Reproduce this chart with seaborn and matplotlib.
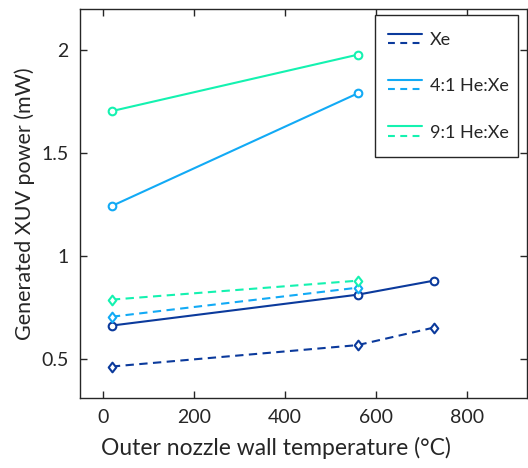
import pandas as pd
import matplotlib
matplotlib.use('Agg')
import matplotlib.pyplot as plt
import seaborn as sns
from matplotlib.legend_handler import HandlerBase
from matplotlib.lines import Line2D
from matplotlib.patches import Rectangle
from matplotlib.path import Path

sns.set_style('ticks')
plt.rcParams['font.family'] = ['Lato', 'DejaVu Sans']

# data
temp_xe = [20, 560, 727]
xe_solid = [0.662, 0.812, 0.880]
xe_dash = [0.463, 0.567, 0.652]

temp_mix = [20, 560]
he4_solid = [1.243, 1.790]
he4_dash = [0.705, 0.846]
he9_solid = [1.704, 1.978]
he9_dash = [0.788, 0.880]

c_xe = '#0b3a9c'
c_4 = '#12aaf5'
c_9 = '#14f2b0'
dash = (0, (4, 2.6))
diamond = Path([(0, 1), (0.78, 0), (0, -1), (-0.78, 0), (0, 1)],
               [Path.MOVETO, Path.LINETO, Path.LINETO, Path.LINETO, Path.CLOSEPOLY])

fig = plt.figure(figsize=(5.28, 4.68), dpi=100)
ax = fig.add_axes([80/528, 70/468, 447/528, 389/468])

def draw(x, y, col, dashed):
    d = pd.DataFrame({'T': x, 'P': y})
    sns.lineplot(data=d, x='T', y='P', ax=ax, color=col, lw=1.5,
                 linestyle=dash if dashed else '-',
                 marker=diamond if dashed else 'o', ms=7 if dashed else 5.5,
                 mfc='white', mec=col, mew=1.5, legend=False)

draw(temp_xe, xe_solid, c_xe, False)
draw(temp_xe, xe_dash, c_xe, True)
draw(temp_mix, he4_solid, c_4, False)
draw(temp_mix, he4_dash, c_4, True)
draw(temp_mix, he9_solid, c_9, False)
draw(temp_mix, he9_dash, c_9, True)

ax.set_xlim(-50, 932)
ax.set_ylim(0.31, 2.2)
ax.set_xticks([0, 200, 400, 600, 800])
ax.set_yticks([0.5, 1, 1.5, 2])
ax.set_yticklabels(['0.5', '1', '1.5', '2'])
ax.tick_params(direction='in', top=True, right=True, labelsize=14,
               length=5, width=1, colors='#262626', pad=8)
for s in ax.spines.values():
    s.set_color('#262626')
    s.set_linewidth(1)
ax.set_xlabel('Outer nozzle wall temperature (°C)', fontsize=16.5, color='#262626')
ax.xaxis.set_label_coords(0.438, -0.1)
ax.set_ylabel('Generated XUV power (mW)', fontsize=15.5, color='#262626', labelpad=5)

# legend box drawn by hand, entries without frame on top of it
ax.add_patch(Rectangle((0.660, 0.6195), 0.320, 0.365, transform=ax.transAxes,
                       facecolor='white', edgecolor='#262626', lw=1, zorder=5))

class Pair(HandlerBase):
    def create_artists(self, legend, orig, xd, yd, w, h, fs, trans):
        col = orig.get_color()
        a = Line2D([xd, xd + w], [yd + h * 0.9, yd + h * 0.9], color=col, lw=1.5, transform=trans)
        b = Line2D([xd, xd + w], [yd + h * 0.16, yd + h * 0.16], color=col, lw=1.5,
                   ls=(0, (3.3, 2.6)), transform=trans)
        return [a, b]

handles = [Line2D([], [], color=c) for c in (c_xe, c_4, c_9)]
leg = ax.legend(handles, ['Xe', '4:1 He:Xe', '9:1 He:Xe'], handler_map={Line2D: Pair()},
                loc='upper left', bbox_to_anchor=(0.689, 0.94), fontsize=13,
                frameon=False, handlelength=1.9, labelspacing=1.67, borderpad=0,
                handletextpad=0.44, borderaxespad=0)
leg.set_zorder(6)

fig.savefig('out.png', dpi=100)
